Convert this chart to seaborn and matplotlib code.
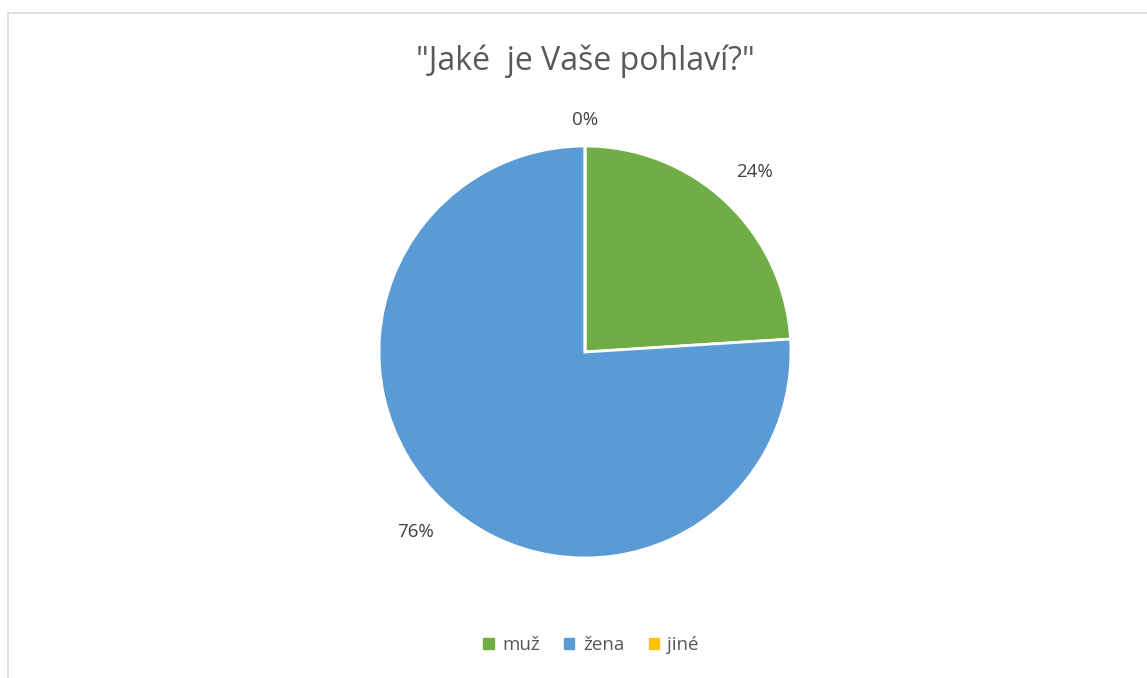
import numpy as np
import pandas as pd
import seaborn as sns
import matplotlib
matplotlib.use("Agg")
import matplotlib.pyplot as plt
from matplotlib.patches import Rectangle

categories = ["muž", "žena", "jiné"]
values = [24, 76, 0]
colors = ["#70AD47", "#5B9BD5", "#FFC000"]
title = "\"Jaké  je Vaše pohlaví?\""

sns.set_theme(style="white")
plt.rcParams['font.family'] = ['Open Sans', 'DejaVu Sans']

fig = plt.figure(figsize=(11.47, 6.78), dpi=100)
fig.patch.set_facecolor("white")

# light chart-area border (top and left visible)
fig.add_artist(Rectangle((8/1147, -0.1), 1.2, 1 - 13/678 + 0.1, transform=fig.transFigure,
                         fill=False, edgecolor="#D9D9D9", linewidth=1.2))

ax = fig.add_axes([(585 - 206) / 1147, (678 - 558) / 678, 412 / 1147, 412 / 678])
df = pd.DataFrame({"cat": categories, "val": values})
wedges, texts, autotexts = ax.pie(df["val"], colors=colors, startangle=90, counterclock=False,
                                  autopct='%.0f%%', pctdistance=1.2,
                                  wedgeprops=dict(edgecolor="white", linewidth=2),
                                  textprops=dict(color="#404040", fontsize=13.5))
# zero-value label sits closer
x0, y0 = autotexts[2].get_position()
autotexts[2].set_position((x0, y0 * 0.94))
ax.set_xlim(-1, 1)
ax.set_ylim(-1, 1)
ax.set_aspect("equal")
ax.axis("off")

fig.text(585 / 1147, 1 - 61 / 678, title, ha="center", va="center", fontsize=23, color="#595959")

handles = [plt.Rectangle((0, 0), 1, 1, color=c) for c in colors]
fig.legend(handles, categories, loc="center", bbox_to_anchor=(591 / 1147, 1 - 645 / 678),
           ncol=3, frameon=False, fontsize=13.5, handlelength=0.55, handleheight=0.55,
           handletextpad=0.45, columnspacing=1.3, labelcolor="#595959")

fig.savefig("out.png", dpi=100, facecolor="white")
